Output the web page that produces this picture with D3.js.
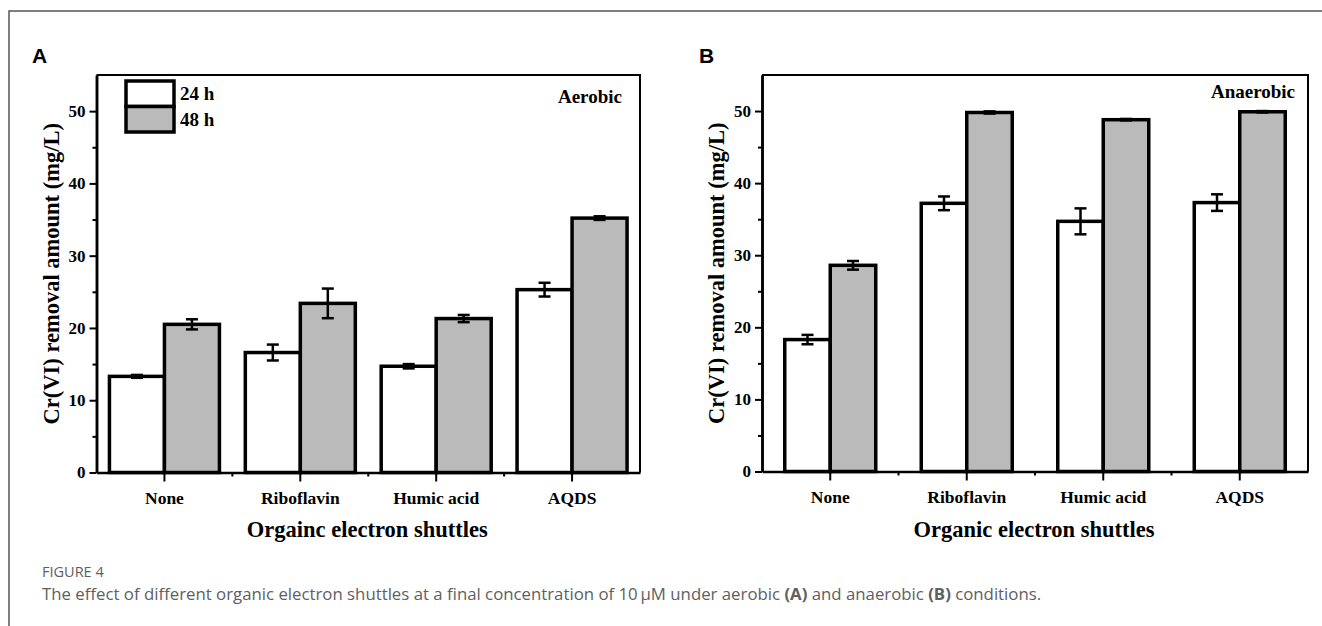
<!DOCTYPE html>
<html>
  <head>
    <meta charset="utf-8">
    <title>Figure 4</title>
    <script src="https://d3js.org/d3.v7.min.js"></script>
    <style>
      body { margin: 0; background: #fff; }
      .axis .domain { stroke: #000; stroke-width: 2.5px; }
      .axis .tick line { stroke: #000; stroke-width: 2px; }
      .axis .tick text {
        font-family: "Liberation Serif", "Times New Roman", serif;
        font-weight: bold;
        font-size: 17.5px;
        fill: #000;
      }
      .axis--y .tick text { font-size: 17px; }
      .axis__label {
        font-family: "Liberation Serif", "Times New Roman", serif;
        font-weight: bold;
        font-size: 22.5px;
        fill: #000;
        text-anchor: middle;
      }
      .panel__tag {
        font-family: "Liberation Sans", Arial, sans-serif;
        font-weight: bold;
        font-size: 21px;
        fill: #000;
      }
      .panel__cond, .legend text {
        font-family: "Liberation Serif", "Times New Roman", serif;
        font-weight: bold;
        font-size: 19px;
        fill: #000;
      }
      .caption {
        font-family: "Open Sans", "Noto Sans", sans-serif;
        fill: #606060;
      }
    </style>
  </head>
  <body>
    <svg width="1322" height="626"></svg>
    <script>
      const categories = ["None", "Riboflavin", "Humic acid", "AQDS"];
      const seriesNames = ["24 h", "48 h"];
      const seriesFills = ["#ffffff", "#bababa"];
      const yTicks = [0, 10, 20, 30, 40, 50];
      const yMinorTicks = [5, 15, 25, 35, 45];

      const aerobic24 = [13.3, 16.6, 14.7, 25.3];
      const aerobic24Err = [0.2, 1.1, 0.3, 0.95];
      const aerobic48 = [20.5, 23.4, 21.3, 35.2];
      const aerobic48Err = [0.7, 2.05, 0.5, 0.25];

      const anaerobic24 = [18.3, 37.2, 34.7, 37.3];
      const anaerobic24Err = [0.65, 0.95, 1.8, 1.15];
      const anaerobic48 = [28.6, 49.8, 48.8, 49.9];
      const anaerobic48Err = [0.6, 0.15, 0.1, 0.1];

      const yLabel = "Cr(VI) removal amount (mg/L)";
      const svg = d3.select("svg");

      // outer figure frame (top + left rule)
      svg.append("path")
        .attr("d", "M9,626V11H1322")
        .attr("fill", "none")
        .attr("stroke", "#555")
        .attr("stroke-width", 1.5);

      function drawPanel(opts) {
        const { left, right, top, bottom } = opts;
        const g = svg.append("g");

        const x = d3.scaleBand().domain(categories).range([left, right]);
        const bw = x.bandwidth();
        const xs = d3.scaleBand().domain(seriesNames)
          .range([bw / 2 - opts.barW, bw / 2 + opts.barW]);
        const y = d3.scaleLinear().domain([0, 55]).range([bottom, top]);

        const rows = [];
        categories.forEach((c, i) => {
          rows.push({ cat: c, s: seriesNames[0], v: opts.v24[i], e: opts.e24[i], fill: seriesFills[0] });
          rows.push({ cat: c, s: seriesNames[1], v: opts.v48[i], e: opts.e48[i], fill: seriesFills[1] });
        });

        g.selectAll("rect.bar").data(rows).enter().append("rect")
          .attr("class", "bar")
          .attr("x", d => x(d.cat) + xs(d.s))
          .attr("width", xs.bandwidth())
          .attr("y", d => y(d.v))
          .attr("height", d => y(0) - y(d.v))
          .attr("fill", d => d.fill)
          .attr("stroke", "#000")
          .attr("stroke-width", 3.5);

        const err = g.selectAll("g.err").data(rows).enter().append("g")
          .attr("class", "err")
          .attr("transform", d => `translate(${x(d.cat) + xs(d.s) + xs.bandwidth() / 2},0)`)
          .attr("stroke", "#000")
          .attr("stroke-width", 2.5);
        err.append("line")
          .attr("y1", d => y(d.v - d.e)).attr("y2", d => y(d.v + d.e));
        err.append("line").attr("x1", -6).attr("x2", 6)
          .attr("y1", d => y(d.v + d.e)).attr("y2", d => y(d.v + d.e));
        err.append("line").attr("x1", -6).attr("x2", 6)
          .attr("y1", d => y(d.v - d.e)).attr("y2", d => y(d.v - d.e));

        // top and right frame
        g.append("path")
          .attr("d", `M${left},${top}H${right}V${bottom}`)
          .attr("fill", "none")
          .attr("stroke", "#000")
          .attr("stroke-width", 2);

        g.append("g").attr("class", "axis axis--y")
          .attr("transform", `translate(${left},0)`)
          .call(d3.axisLeft(y).tickValues(yMinorTicks).tickSize(4).tickSizeOuter(0).tickFormat(""));
        g.append("g").attr("class", "axis axis--y")
          .attr("transform", `translate(${left},0)`)
          .call(d3.axisLeft(y).tickValues(yTicks).tickSize(7).tickSizeOuter(0).tickPadding(4));

        const xAxisG = g.append("g").attr("class", "axis")
          .attr("transform", `translate(0,${bottom})`)
          .call(d3.axisBottom(x).tickSize(9).tickSizeOuter(0).tickPadding(8));
        xAxisG.selectAll(".tick text").attr("dy", "0.85em");
        xAxisG.selectAll("line.minor").data(categories.slice(1)).enter().append("line")
          .attr("class", "minor")
          .attr("x1", d => x(d)).attr("x2", d => x(d))
          .attr("y1", 0).attr("y2", 4)
          .attr("stroke", "#000").attr("stroke-width", 2);

        g.append("text").attr("class", "axis__label")
          .attr("x", (left + right) / 2 + opts.xTitleDx)
          .attr("y", 537)
          .text(opts.xTitle);
        g.append("text").attr("class", "axis__label")
          .attr("transform", `translate(${opts.yTitleX},${(top + bottom) / 2}) rotate(-90)`)
          .text(yLabel);

        g.append("text").attr("class", "panel__tag")
          .attr("x", opts.tagX).attr("y", 63)
          .text(opts.tag);
        g.append("text").attr("class", "panel__cond")
          .attr("x", opts.condX).attr("y", opts.condY)
          .attr("text-anchor", "end")
          .text(opts.cond);
        return g;
      }

      const gA = drawPanel({
        left: 96.5, right: 640, top: 75, bottom: 472.5,
        barW: 55, v24: aerobic24, e24: aerobic24Err, v48: aerobic48, e48: aerobic48Err,
        xTitle: "Orgainc electron shuttles", xTitleDx: -1, yTitleX: 59,
        tag: "A", tagX: 32, cond: "Aerobic", condX: 622, condY: 103
      });
      drawPanel({
        left: 762, right: 1308, top: 75, bottom: 471.5,
        barW: 45.5, v24: anaerobic24, e24: anaerobic24Err, v48: anaerobic48, e48: anaerobic48Err,
        xTitle: "Organic electron shuttles", xTitleDx: -1, yTitleX: 724,
        tag: "B", tagX: 699, cond: "Anaerobic", condX: 1295, condY: 98
      });

      // legend (panel A only)
      const legend = gA.append("g").attr("class", "legend")
        .attr("transform", "translate(126,81)");
      const legendItem = legend.selectAll("g").data(seriesNames).enter().append("g")
        .attr("transform", (d, i) => `translate(0,${i * 25.5})`);
      legendItem.append("rect")
        .attr("width", 48).attr("height", 25.5)
        .attr("fill", (d, i) => seriesFills[i])
        .attr("stroke", "#000").attr("stroke-width", 3.5);
      legendItem.append("text")
        .attr("x", 54).attr("y", 19)
        .text(d => d);

      // caption
      svg.append("text").attr("class", "caption")
        .attr("x", 42).attr("y", 577)
        .attr("font-size", 14.5)
        .text("FIGURE 4");
      const cap = svg.append("text").attr("class", "caption")
        .attr("x", 42).attr("y", 600)
        .attr("font-size", 16.8);
      cap.append("tspan").text("The effect of different organic electron shuttles at a final concentration of 10\u2009\u03bcM under aerobic ");
      cap.append("tspan").attr("font-weight", "bold").text("(A)");
      cap.append("tspan").text(" and anaerobic ");
      cap.append("tspan").attr("font-weight", "bold").text("(B)");
      cap.append("tspan").text(" conditions.");
    </script>
  </body>
</html>
